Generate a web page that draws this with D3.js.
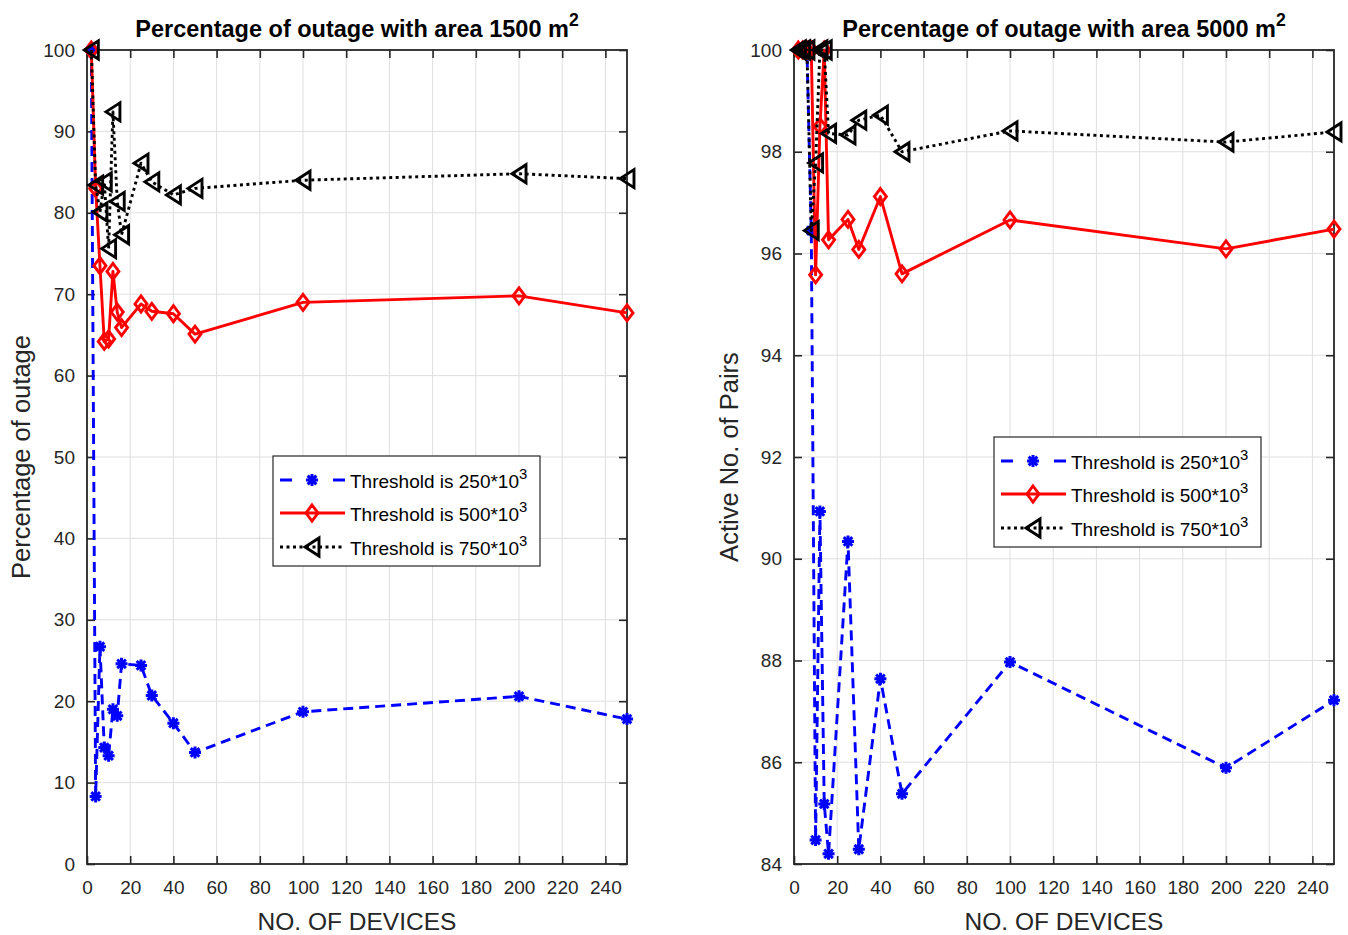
<!DOCTYPE html>
<html>
<head>
<meta charset="utf-8">
<script src="https://cdn.jsdelivr.net/npm/d3@7/dist/d3.min.js"></script>
<style>
  html, body { margin: 0; padding: 0; background: #fff; }
  svg { display: block; font-family: "Liberation Sans", Arial, Helvetica, sans-serif; }
</style>
</head>
<body>
<svg id="chart" width="1348" height="935"></svg>
<script>
// Number of devices (shared x values)
const devices = [2, 4, 6, 8, 10, 12, 14, 16, 25, 30, 40, 50, 100, 200, 250];

// Percentage of outage, area 1500 m^2
const outage250 = [100, 8.3, 26.7, 14.3, 13.3, 19.0, 18.2, 24.6, 24.4, 20.7, 17.3, 13.7, 18.7, 20.6, 17.8];
const outage500 = [100, 83.0, 73.5, 64.2, 64.5, 72.8, 67.8, 65.9, 68.8, 67.9, 67.6, 65.1, 69.0, 69.8, 67.7];
const outage750 = [100, 83.4, 80.1, 83.8, 75.6, 92.4, 81.4, 77.3, 86.1, 83.8, 82.2, 83.0, 84.0, 84.8, 84.2];

// Active number of pairs, area 5000 m^2
const pairs250 = [100, 100, 100, 96.45, 84.47, 90.93, 85.18, 84.20, 90.34, 84.29, 87.64, 85.38, 87.97, 85.89, 87.22];
const pairs500 = [100, 100, 100, 100, 95.58, 98.50, 100, 96.27, 96.67, 96.08, 97.12, 95.60, 96.66, 96.09, 96.48];
const pairs750 = [100, 100, 100, 96.45, 97.78, 100, 100, 98.36, 98.33, 98.62, 98.72, 98.00, 98.41, 98.19, 98.39];

const xTicks = [0, 20, 40, 60, 80, 100, 120, 140, 160, 180, 200, 220, 240];
const yTicksLeft = [0, 10, 20, 30, 40, 50, 60, 70, 80, 90, 100];
const yTicksRight = [84, 86, 88, 90, 92, 94, 96, 98, 100];

const seriesNames = ["Threshold is 250*10", "Threshold is 500*10", "Threshold is 750*10"];

const styles = [
  { color: "#0000ff", dash: "10,6", legendDash: "12,41", marker: "asterisk" },
  { color: "#ff0000", dash: null, legendDash: null, marker: "diamond" },
  { color: "#000000", dash: "3,3.5", legendDash: "3,3.5", marker: "triangle" }
];

const lineW = 2.9;
const svg = d3.select("#chart");
const axisColor = "#262626";
const gridColor = "#dfdfdf";

function drawMarker(g, type, color, cx, cy) {
  if (type === "asterisk") {
    const r = 6, d = r * 0.72;
    const p = d3.path();
    p.moveTo(cx - r, cy); p.lineTo(cx + r, cy);
    p.moveTo(cx, cy - r); p.lineTo(cx, cy + r);
    p.moveTo(cx - d, cy - d); p.lineTo(cx + d, cy + d);
    p.moveTo(cx - d, cy + d); p.lineTo(cx + d, cy - d);
    g.append("path").attr("d", p.toString()).attr("stroke", color)
      .attr("stroke-width", 3).attr("fill", "none");
  } else if (type === "diamond") {
    const w = 6, h = 8;
    g.append("path")
      .attr("d", `M${cx},${cy - h}L${cx + w},${cy}L${cx},${cy + h}L${cx - w},${cy}Z`)
      .attr("stroke", color).attr("stroke-width", lineW).attr("fill", "none");
  } else {
    const w = 7, h = 9;
    g.append("path")
      .attr("d", `M${cx - w},${cy}L${cx + w},${cy - h}L${cx + w},${cy + h}Z`)
      .attr("stroke", color).attr("stroke-width", lineW).attr("fill", "none")
      .attr("stroke-linejoin", "miter");
  }
}

function superText(sel, base, sup, size, supScale) {
  sel.append("tspan").text(base);
  sel.append("tspan").text(sup).attr("font-size", size * (supScale || 0.72)).attr("dy", -size * 0.45);
}

function drawPanel(opt) {
  const g = svg.append("g");
  const x = d3.scaleLinear().domain([0, 250]).range([opt.left, opt.right]);
  const y = d3.scaleLinear().domain(opt.yDomain).range([opt.bottom, opt.top]);

  // grid
  g.append("g").selectAll("line").data(xTicks).join("line")
    .attr("x1", d => x(d)).attr("x2", d => x(d))
    .attr("y1", opt.top).attr("y2", opt.bottom)
    .attr("stroke", gridColor).attr("stroke-width", 1);
  g.append("g").selectAll("line").data(opt.yTicks).join("line")
    .attr("x1", opt.left).attr("x2", opt.right)
    .attr("y1", d => y(d)).attr("y2", d => y(d))
    .attr("stroke", gridColor).attr("stroke-width", 1);

  // axes via d3 axis generators (inward ticks)
  const tickLen = 8;
  const fs = 19;
  const bottomAxis = d3.axisBottom(x).tickValues(xTicks).tickSizeInner(-tickLen).tickSizeOuter(0).tickPadding(17);
  const topAxis = d3.axisTop(x).tickValues(xTicks).tickSizeInner(-tickLen).tickSizeOuter(0).tickFormat("");
  const leftAxis = d3.axisLeft(y).tickValues(opt.yTicks).tickSizeInner(-tickLen).tickSizeOuter(0).tickPadding(12);
  const rightAxis = d3.axisRight(y).tickValues(opt.yTicks).tickSizeInner(-tickLen).tickSizeOuter(0).tickFormat("");

  const styleAxis = a => {
    a.selectAll("path").remove();
    a.selectAll("line").attr("stroke", axisColor).attr("stroke-width", 1.6);
    a.selectAll("text").attr("fill", axisColor).attr("font-size", fs)
      .attr("font-family", "'Liberation Sans', Arial, sans-serif");
  };
  g.append("g").attr("transform", `translate(0,${opt.bottom})`).call(bottomAxis).call(styleAxis);
  g.append("g").attr("transform", `translate(0,${opt.top})`).call(topAxis).call(styleAxis);
  g.append("g").attr("transform", `translate(${opt.left},0)`).call(leftAxis).call(styleAxis);
  g.append("g").attr("transform", `translate(${opt.right},0)`).call(rightAxis).call(styleAxis);

  // box
  g.append("rect").attr("x", opt.left).attr("y", opt.top)
    .attr("width", opt.right - opt.left).attr("height", opt.bottom - opt.top)
    .attr("fill", "none").attr("stroke", axisColor).attr("stroke-width", 1.8);

  // series
  const line = d3.line().x(d => x(d[0])).y(d => y(d[1]));
  opt.series.forEach((vals, i) => {
    const st = styles[i];
    const pts = devices.map((d, k) => [d, vals[k]]);
    const sg = g.append("g");
    sg.append("path").datum(pts).attr("d", line)
      .attr("fill", "none").attr("stroke", st.color).attr("stroke-width", lineW)
      .attr("stroke-dasharray", st.dash).attr("stroke-linejoin", "round");
    pts.forEach(p => drawMarker(sg, st.marker, st.color, x(p[0]), y(p[1])));
  });

  // title
  const tt = g.append("text").attr("x", (opt.left + opt.right) / 2).attr("y", 37)
    .attr("text-anchor", "middle").attr("font-weight", "bold").attr("font-size", 23.5).attr("fill", "#000");
  superText(tt, opt.title, "2", 23.5, 0.75);

  // axis labels
  g.append("text").attr("x", (opt.left + opt.right) / 2).attr("y", 930)
    .attr("text-anchor", "middle").attr("font-size", 24.5).attr("fill", axisColor)
    .text("NO. OF DEVICES");
  g.append("text")
    .attr("transform", `translate(${opt.ylabelX},${(opt.top + opt.bottom) / 2}) rotate(-90)`)
    .attr("text-anchor", "middle").attr("font-size", 25.5).attr("fill", axisColor)
    .text(opt.ylabel);

  // legend
  const L = opt.legend;
  const lg = g.append("g");
  lg.append("rect").attr("x", L.x).attr("y", L.y).attr("width", 267).attr("height", 110)
    .attr("fill", "#fff").attr("stroke", axisColor).attr("stroke-width", 1.2);
  const rows = [24, 57, 91];
  seriesNames.forEach((name, i) => {
    const st = styles[i];
    const ry = L.y + rows[i];
    lg.append("line").attr("x1", L.x + 7).attr("x2", L.x + 72).attr("y1", ry).attr("y2", ry)
      .attr("stroke", st.color).attr("stroke-width", lineW).attr("stroke-dasharray", st.legendDash);
    drawMarker(lg, st.marker, st.color, L.x + 39, ry);
    const t = lg.append("text").attr("x", L.x + 77).attr("y", ry + 8)
      .attr("font-size", 19).attr("fill", "#000");
    superText(t, name, "3", 19, 0.78);
  });
}

drawPanel({
  left: 87, right: 627, top: 50, bottom: 864,
  yDomain: [0, 100], yTicks: yTicksLeft,
  series: [outage250, outage500, outage750],
  title: "Percentage of outage with area 1500 m",
  ylabel: "Percentage of outage", ylabelX: 30,
  legend: { x: 273, y: 456 }
});

drawPanel({
  left: 794, right: 1334, top: 50, bottom: 864,
  yDomain: [84, 100], yTicks: yTicksRight,
  series: [pairs250, pairs500, pairs750],
  title: "Percentage of outage with area 5000 m",
  ylabel: "Active No. of Pairs", ylabelX: 738,
  legend: { x: 994, y: 437 }
});
</script>
</body>
</html>
